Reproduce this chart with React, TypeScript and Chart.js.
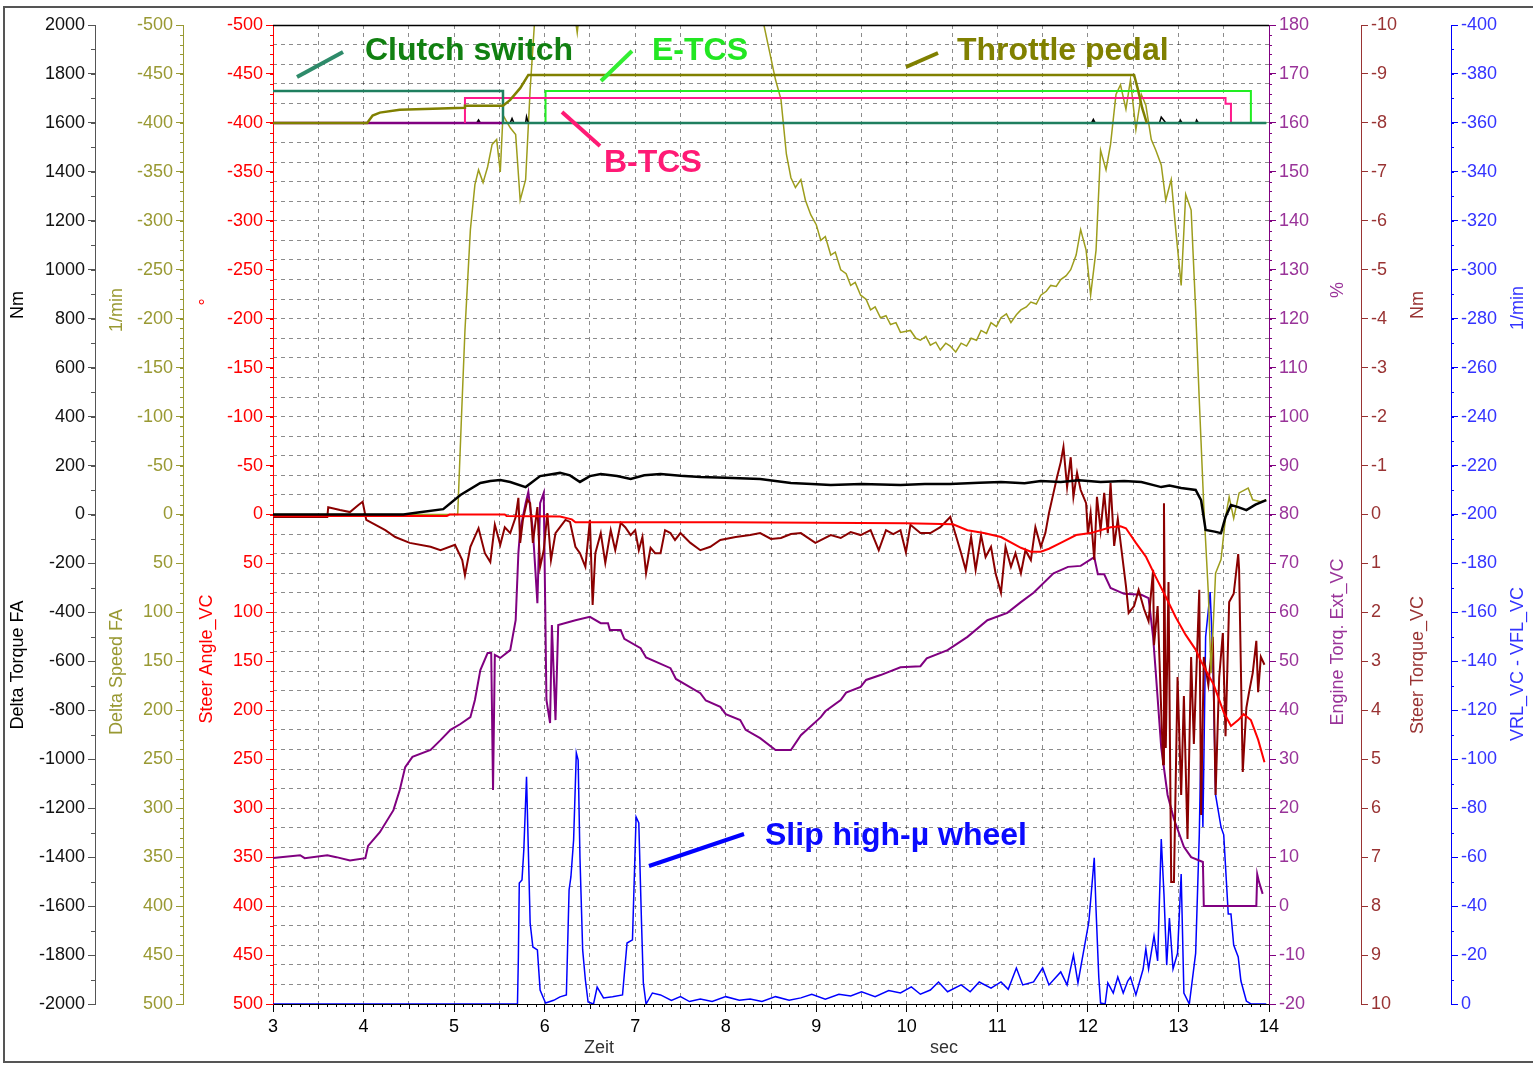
import React, { useEffect, useRef } from 'react';
import { Chart, registerables } from 'chart.js';

Chart.register(...registerables);

const FONT = '"Liberation Sans", Arial, Helvetica, sans-serif';

// ---- time axis (sec) ----
const X_MIN = 3;
const X_MAX = 14;

// ---- series: [time (s), value] ----
const DELTA_TORQUE_FA: [number, number][] = [
  [3.0, 0], [4.44, 0], [4.6, 8], [4.88, 22], [5.07, 80], [5.29, 129], [5.40, 137], [5.51, 141], [5.62, 133],
  [5.79, 112], [5.95, 157], [6.17, 170], [6.28, 160], [6.39, 133], [6.50, 157], [6.62, 165], [6.80, 157],
  [6.95, 145], [7.10, 160], [7.28, 165], [7.50, 158], [7.72, 153], [8.0, 150], [8.38, 145], [8.55, 137],
  [8.72, 129], [8.95, 125], [9.16, 121], [9.5, 125], [9.93, 121], [10.2, 125], [10.48, 125], [10.8, 130],
  [11.04, 133], [11.3, 128], [11.48, 137], [11.70, 133], [11.9, 140], [12.14, 133], [12.4, 137], [12.59, 133],
  [12.81, 112], [12.9, 118], [13.03, 108], [13.19, 100], [13.25, 59], [13.30, -63], [13.40, -70], [13.47, -76],
  [13.52, -10], [13.58, 39], [13.66, 30], [13.75, 18], [13.85, 40], [13.97, 59],
];

const DELTA_SPEED_FA: [number, number][] = [
  [3.0, 0], [5.04, 0], [5.08, -96], [5.12, -188], [5.18, -291], [5.23, -337], [5.27, -352], [5.32, -339],
  [5.37, -355], [5.42, -378], [5.47, -383], [5.51, -350], [5.54, -408], [5.62, -395], [5.68, -388], [5.73, -321],
  [5.79, -342], [5.84, -434], [5.89, -505], [6.01, -580], [6.30, -540], [6.34, -505], [6.36, -492], [6.38, -510],
  [6.45, -600], [7.0, -700], [8.0, -650], [8.38, -540], [8.41, -505], [8.55, -444], [8.61, -424], [8.64, -396],
  [8.67, -368], [8.72, -344], [8.77, -334], [8.83, -342], [8.88, -321], [8.94, -306], [9.0, -296], [9.05, -280],
  [9.10, -284], [9.16, -265], [9.21, -268], [9.27, -250], [9.33, -246], [9.38, -234], [9.43, -237], [9.49, -224],
  [9.55, -220], [9.60, -209], [9.65, -212], [9.71, -201], [9.77, -203], [9.82, -194], [9.88, -196], [9.93, -186],
  [10.04, -188], [10.10, -180], [10.15, -178], [10.21, -182], [10.26, -173], [10.32, -176], [10.37, -168],
  [10.43, -175], [10.48, -172], [10.54, -166], [10.60, -175], [10.66, -172], [10.71, -180], [10.77, -178],
  [10.82, -188], [10.88, -185], [10.93, -196], [10.99, -192], [11.04, -201], [11.10, -205], [11.15, -196],
  [11.21, -204], [11.26, -209], [11.32, -212], [11.37, -217], [11.43, -215], [11.48, -224], [11.54, -228],
  [11.59, -234], [11.65, -233], [11.70, -240], [11.76, -244], [11.81, -250], [11.87, -265], [11.92, -291],
  [11.98, -270], [12.03, -224], [12.09, -270], [12.14, -372], [12.20, -352], [12.25, -378], [12.31, -429],
  [12.36, -439], [12.42, -414], [12.47, -444], [12.53, -393], [12.59, -429], [12.64, -418], [12.70, -383],
  [12.75, -372], [12.81, -357], [12.86, -321], [12.92, -342], [12.97, -291], [13.03, -234], [13.08, -327],
  [13.14, -311], [13.19, -209], [13.23, -117], [13.28, -8], [13.33, 80], [13.36, 162], [13.41, 60], [13.47, 46],
  [13.52, 3], [13.56, -18], [13.61, 4], [13.67, -22], [13.77, -27], [13.82, -15], [13.91, -13], [13.97, -15],
];

const STEER_ANGLE_VC: [number, number][] = [
  [3.0, 1.5], [4.92, 1.5], [4.95, 0], [5.56, 0], [5.58, 1.5], [6.17, 2], [6.30, 5], [6.34, 8], [8.0, 8],
  [9.99, 9], [10.51, 10], [10.67, 16], [10.85, 19], [11.04, 23], [11.26, 34], [11.37, 38], [11.48, 38],
  [11.57, 35], [11.70, 29], [11.87, 21], [12.03, 19], [12.25, 13], [12.36, 12], [12.42, 14], [12.53, 29],
  [12.64, 43], [12.75, 64], [12.86, 84], [12.97, 105], [13.08, 123], [13.19, 138], [13.25, 150], [13.39, 174],
  [13.50, 202], [13.58, 216], [13.66, 210], [13.72, 204], [13.80, 210], [13.88, 230], [13.95, 253],
];

const ENGINE_TORQ_EXT: [number, number][] = [
  [3.0, 9.8], [3.3, 10.4], [3.35, 9.8], [3.6, 10.4], [3.7, 10.0], [3.85, 9.3], [4.02, 9.8], [4.05, 12.3],
  [4.18, 15.1], [4.33, 19.6], [4.40, 23.7], [4.46, 28.4], [4.54, 30.5], [4.74, 31.9], [4.85, 33.9], [4.96, 36.0],
  [5.07, 37.2], [5.18, 38.6], [5.23, 42.1], [5.29, 48.2], [5.37, 51.7], [5.41, 51.7], [5.43, 23.7], [5.45, 51.3],
  [5.51, 50.7], [5.62, 52.3], [5.68, 58.4], [5.71, 72.1], [5.73, 76.8], [5.79, 82.3], [5.82, 84.6], [5.87, 76.8],
  [5.92, 61.9], [5.95, 82.3], [5.99, 84.4], [6.02, 42.1], [6.06, 37.4], [6.08, 57.4], [6.12, 38.0], [6.15, 57.4],
  [6.34, 58.4], [6.50, 59.1], [6.62, 57.8], [6.70, 57.8], [6.72, 56.4], [6.84, 56.4], [6.88, 54.6], [7.06, 52.7],
  [7.12, 50.8], [7.39, 48.6], [7.45, 46.4], [7.72, 43.5], [7.78, 42.0], [7.94, 40.7], [8.00, 39.2], [8.16, 38.0],
  [8.22, 36.0], [8.38, 34.3], [8.55, 31.9], [8.72, 31.9], [8.83, 34.9], [9.05, 38.6], [9.10, 39.8], [9.27, 42.1],
  [9.33, 43.6], [9.49, 44.8], [9.55, 46.2], [9.71, 47.2], [9.93, 48.8], [10.15, 49.0], [10.22, 50.6],
  [10.45, 52.3], [10.67, 55.0], [10.89, 58.4], [11.11, 59.9], [11.26, 62.1], [11.40, 64.0], [11.62, 68.0],
  [11.78, 69.3], [11.92, 69.5], [12.07, 71.3], [12.11, 67.8], [12.18, 67.8], [12.25, 65.0], [12.40, 63.8],
  [12.59, 63.6], [12.67, 62.9], [12.72, 55.0], [12.75, 47.6], [12.81, 32.3], [12.88, 22.7], [12.95, 17.8],
  [13.06, 12.1], [13.14, 10.0], [13.27, 9.0], [13.28, 0], [13.86, 0], [13.87, 6.5], [13.89, 4.9], [13.93, 2.5],
];

const STEER_TORQUE_VC: [number, number][] = [
  [3.0, 0.05], [3.60, 0.05], [3.61, -0.15], [3.74, -0.09], [3.85, -0.05], [3.94, -0.19], [3.99, -0.26],
  [4.03, 0.11], [4.24, 0.32], [4.35, 0.46], [4.51, 0.58], [4.74, 0.66], [4.85, 0.73], [5.01, 0.62], [5.09, 0.93],
  [5.12, 1.24], [5.18, 0.66], [5.27, 0.28], [5.34, 0.79], [5.40, 0.97], [5.45, 0.21], [5.51, 0.62], [5.56, 0.26],
  [5.62, 0.38], [5.68, 0.05], [5.71, -0.34], [5.73, 0.58], [5.76, 0.11], [5.81, -0.30], [5.84, -0.23],
  [5.87, 0.58], [5.92, -0.15], [5.95, 1.07], [5.99, 0.73], [6.03, -0.03], [6.07, 0.93], [6.12, 0.38],
  [6.17, 0.26], [6.23, 0.11], [6.28, 0.15], [6.34, 0.66], [6.39, 0.79], [6.45, 1.07], [6.50, 0.11], [6.53, 1.85],
  [6.56, 0.79], [6.62, 0.38], [6.67, 0.99], [6.73, 0.32], [6.78, 0.73], [6.84, 0.17], [6.89, 0.26], [6.95, 0.42],
  [7.00, 0.32], [7.04, 0.73], [7.08, 0.46], [7.12, 1.20], [7.17, 0.68], [7.22, 0.79], [7.28, 0.79], [7.33, 0.32],
  [7.39, 0.38], [7.44, 0.52], [7.50, 0.38], [7.61, 0.58], [7.72, 0.73], [7.83, 0.66], [7.94, 0.52], [8.11, 0.46],
  [8.27, 0.42], [8.38, 0.38], [8.50, 0.50], [8.61, 0.48], [8.72, 0.40], [8.83, 0.38], [8.99, 0.58], [9.16, 0.42],
  [9.27, 0.48], [9.38, 0.36], [9.49, 0.42], [9.60, 0.32], [9.69, 0.73], [9.77, 0.32], [9.85, 0.40], [9.93, 0.32],
  [9.99, 0.77], [10.04, 0.21], [10.15, 0.38], [10.26, 0.38], [10.37, 0.26], [10.48, 0.05], [10.54, 0.42],
  [10.60, 0.79], [10.65, 1.13], [10.71, 0.46], [10.76, 1.13], [10.82, 0.42], [10.87, 0.87], [10.93, 0.66],
  [10.98, 1.20], [11.04, 1.60], [11.09, 0.66], [11.15, 1.07], [11.20, 0.79], [11.26, 1.20], [11.31, 0.73],
  [11.37, 0.93], [11.42, 0.26], [11.48, 0.66], [11.53, 0.38], [11.57, -0.03], [11.61, -0.36], [11.66, -0.77],
  [11.70, -1.07], [11.73, -1.38], [11.77, -0.56], [11.81, -1.17], [11.84, -0.36], [11.88, -0.85], [11.92, -0.50],
  [11.98, -0.23], [12.00, 0.40], [12.03, -0.03], [12.07, 0.93], [12.10, -0.36], [12.14, 0.32], [12.18, -0.44],
  [12.22, 0.38], [12.25, -0.64], [12.29, 0.64], [12.33, 0.09], [12.36, 0.56], [12.42, 1.46], [12.45, 2.01],
  [12.51, 1.87], [12.56, 1.54], [12.62, 1.93], [12.67, 2.18], [12.72, 1.13], [12.73, 2.67], [12.77, 1.87],
  [12.83, 5.10], [12.84, -0.23], [12.86, 4.77], [12.89, 1.38], [12.92, 7.51], [12.95, 7.51], [12.99, 3.32],
  [13.03, 5.73], [13.06, 3.71], [13.10, 6.63], [13.14, 2.91], [13.17, 4.69], [13.23, 1.54], [13.25, 6.14],
  [13.28, 2.91], [13.33, 3.48], [13.38, 2.50], [13.41, 5.73], [13.45, 3.32], [13.49, 2.42], [13.52, 4.53],
  [13.56, 1.79], [13.61, 1.62], [13.66, 0.81], [13.67, 1.13], [13.71, 5.26], [13.75, 3.95], [13.78, 3.63],
  [13.82, 3.24], [13.86, 2.58], [13.88, 3.63], [13.91, 2.91], [13.95, 3.07],
];

const VRL_MINUS_VFL: [number, number][] = [
  [3.0, 0], [5.70, 0], [5.71, -19.2], [5.72, -49.4], [5.75, -50.7], [5.77, -62.9], [5.80, -92.8], [5.82, -62.9],
  [5.84, -33.1], [5.87, -23.3], [5.92, -22.1], [5.95, -5.7], [6.01, -0.4], [6.10, -1.5], [6.17, -2.9],
  [6.24, -3.7], [6.27, -46.6], [6.29, -51.9], [6.32, -67], [6.35, -102.6], [6.37, -99.7], [6.39, -60.1],
  [6.42, -22.1], [6.45, -9.8], [6.48, -0.8], [6.54, 0], [6.58, -6.9], [6.65, -2.5], [6.75, -3.0], [6.86, -3.7],
  [6.91, -24.9], [6.97, -26.2], [7.01, -76.4], [7.04, -74], [7.07, -33.1], [7.09, -8.6], [7.12, 0], [7.19, -4.5],
  [7.28, -3.7], [7.4, -1.5], [7.5, -3], [7.6, -1], [7.72, -2], [7.85, -1], [8.0, -3], [8.15, -1.5], [8.27, -2],
  [8.4, -1], [8.55, -3], [8.7, -1.5], [8.83, -2.5], [8.95, -4], [9.1, -2], [9.25, -4], [9.38, -3.3], [9.5, -5],
  [9.65, -3], [9.8, -5.5], [9.93, -4.5], [10.05, -7], [10.15, -4], [10.26, -5.7], [10.35, -9], [10.45, -5],
  [10.6, -7.8], [10.7, -5], [10.8, -9], [10.93, -6.5], [11.04, -9], [11.12, -6], [11.21, -14.7], [11.28, -7.8],
  [11.4, -9], [11.50, -14.7], [11.57, -7.8], [11.70, -13.1], [11.77, -7.8], [11.84, -20], [11.89, -8.6],
  [12.01, -33.5], [12.07, -59.7], [12.09, -38.4], [12.12, -11], [12.14, -0.4], [12.19, 0], [12.22, -8.6],
  [12.28, -4.5], [12.33, -11], [12.39, -4.5], [12.44, -9.4], [12.47, -11], [12.53, -3.7], [12.61, -14.3],
  [12.64, -22.5], [12.67, -14.3], [12.73, -27.8], [12.77, -17.6], [12.81, -67.4], [12.84, -44.9], [12.87, -15.9],
  [12.90, -35.1], [12.94, -14.3], [12.99, -20.8], [13.03, -53.1], [13.06, -4.5], [13.12, 0], [13.19, -20.8],
  [13.23, -69.1], [13.25, -109.5], [13.27, -72.3], [13.30, -150], [13.35, -168.3], [13.38, -141.8],
  [13.41, -85.4], [13.47, -72.3], [13.50, -69.1], [13.55, -36.8], [13.58, -36.8], [13.61, -24.1], [13.66, -19.2],
  [13.69, -9.4], [13.75, -1.2], [13.80, 0], [13.97, 0],
];

// digital / pedal traces, plotted on the % axis
const THROTTLE_PEDAL: [number, number][] = [
  [3.0, 160], [4.04, 160], [4.10, 161.5], [4.18, 162.1], [4.40, 162.7], [5.12, 163.1], [5.12, 163.5],
  [5.54, 163.5], [5.62, 164.7], [5.73, 167.1], [5.82, 169.8], [12.51, 169.8], [12.55, 167], [12.60, 163],
  [12.65, 160],
];
const CLUTCH_SWITCH: [number, number][] = [[3.0, 166.5], [5.54, 166.5], [5.54, 160], [13.97, 160]];
const B_TCS: [number, number][] = [
  [5.12, 160], [5.12, 165.1], [13.52, 165.1], [13.52, 163.9], [13.58, 163.9], [13.58, 160],
];
const E_TCS: [number, number][] = [[6.01, 160], [6.01, 166.5], [13.80, 166.5], [13.80, 160], [13.97, 160]];
const BASE_STATE: [number, number][] = [[3.0, 160], [5.54, 160]];
const FLAG_BLIPS: [number, number][] = [
  [5.25, 160], [5.27, 160.6], [5.29, 160], [5.62, 160], [5.64, 160.9], [5.66, 160], [5.79, 160], [5.80, 161.3],
  [5.82, 160], [12.04, 160], [12.06, 160.7], [12.08, 160], [12.79, 160], [12.81, 161.2], [12.84, 160.5],
  [12.86, 160], [13.01, 160], [13.02, 160.6], [13.04, 160], [13.19, 160], [13.20, 160.6], [13.22, 160],
];

// ---- axis tick labels ----
const X_LABELS = [3, 4, 5, 6, 7, 8, 9, 10, 11, 12, 13, 14];

const toXY = (arr: [number, number][]) => arr.map(([x, y]) => ({ x, y }));

function lineDs(label: string, data: [number, number][], color: string, width: number, yAxisID: string) {
  return {
    label,
    data: toXY(data),
    borderColor: color,
    backgroundColor: color,
    borderWidth: width,
    pointRadius: 0,
    tension: 0,
    fill: false,
    yAxisID,
    xAxisID: 'x',
  };
}

const tickFont = { family: FONT, size: 18 };

function yAxis(o: {
  position: 'left' | 'right';
  min: number;
  max: number;
  step: number;
  reverse?: boolean;
  label: string;
  line: string;
  width: number;
}) {
  return {
    type: 'linear',
    position: o.position,
    min: o.min,
    max: o.max,
    reverse: !!o.reverse,
    ticks: {
      stepSize: o.step,
      autoSkip: false,
      color: o.label,
      font: tickFont,
      padding: 3,
      callback: (v: number) => String(Math.round(v * 100) / 100),
    },
    grid: {
      drawOnChartArea: false,
      drawTicks: true,
      tickLength: 7,
      tickColor: o.line,
      tickWidth: 1,
    },
    border: { display: true, color: o.line, width: 1 },
    afterFit: (s: any) => {
      s.width = o.width;
    },
  };
}

const MINOR = [
  { id: 'yTorque', step: 100, len: 4, color: '#555555' },
  { id: 'ySpeed', step: 10, len: 3, color: '#999933' },
  { id: 'ySteer', step: 10, len: 3, color: '#ff0000' },
  { id: 'yEngine', step: 2, len: 3, color: '#800080' },
  { id: 'ySlip', step: 10, len: 3, color: '#0000ff' },
];

const TITLES = [
  { x: 18, unit: 'Nm', uy: 305, name: 'Delta Torque FA', ny: 665, color: '#000000' },
  { x: 117, unit: '1/min', uy: 310, name: 'Delta Speed FA', ny: 672, color: '#999933' },
  { x: 207, unit: '°', uy: 302, name: 'Steer Angle_VC', ny: 659, color: '#ff0000' },
  { x: 1338, unit: '%', uy: 290, name: 'Engine Torq. Ext_VC', ny: 642, color: '#993399' },
  { x: 1418, unit: 'Nm', uy: 305, name: 'Steer Torque_VC', ny: 665, color: '#993333' },
  { x: 1518, unit: '1/min', uy: 308, name: 'VRL_VC - VFL_VC', ny: 664, color: '#3333ff' },
];

const NOTES = [
  { text: 'Clutch switch', x: 365, y: 60, color: '#118011', l: [297, 77, 343, 52], lc: '#2e8b6a' },
  { text: 'E-TCS', x: 652, y: 60, color: '#22e622', l: [601, 81, 632, 51], lc: '#33ee33' },
  { text: 'Throttle pedal', x: 957, y: 60, color: '#808000', l: [906, 67, 938, 53], lc: '#808000' },
  { text: 'B-TCS', x: 604, y: 172, color: '#ff1a75', l: [562, 112, 600, 146], lc: '#ff1a75' },
  { text: 'Slip high-µ wheel', x: 765, y: 845, color: '#0a0aff', l: [649, 866, 744, 834], lc: '#0000ff' },
];

const decorPlugin = {
  id: 'decor',
  beforeDraw(chart: any) {
    const { ctx, width, height } = chart;
    ctx.save();
    ctx.fillStyle = '#ffffff';
    ctx.fillRect(0, 0, width, height);
    ctx.restore();
  },
  afterDraw(chart: any) {
    const ctx: CanvasRenderingContext2D = chart.ctx;
    const area = chart.chartArea;
    ctx.save();

    // outer frame
    ctx.strokeStyle = '#555555';
    ctx.lineWidth = 2;
    ctx.beginPath();
    ctx.moveTo(1533, 7);
    ctx.lineTo(4, 7);
    ctx.lineTo(4, 1062);
    ctx.lineTo(1533, 1062);
    ctx.stroke();

    // top border of plot area
    ctx.strokeStyle = '#000000';
    ctx.lineWidth = 1.5;
    ctx.beginPath();
    ctx.moveTo(area.left, area.top + 0.5);
    ctx.lineTo(area.right, area.top + 0.5);
    ctx.stroke();

    // minor ticks on y axes
    ctx.lineWidth = 1;
    for (const m of MINOR) {
      const s = chart.scales[m.id];
      if (!s) continue;
      const lo = Math.min(s.min, s.max);
      const hi = Math.max(s.min, s.max);
      const n = Math.round((hi - lo) / m.step);
      const left = s.position === 'left';
      const x0 = left ? s.right : s.left;
      ctx.strokeStyle = m.color;
      ctx.beginPath();
      for (let i = 0; i <= n; i++) {
        const v = lo + i * m.step;
        const py = Math.round(s.getPixelForValue(v)) + 0.5;
        ctx.moveTo(x0, py);
        ctx.lineTo(left ? x0 - m.len : x0 + m.len, py);
      }
      ctx.stroke();
    }

    // minor ticks on time axis
    const xs = chart.scales.x;
    ctx.strokeStyle = '#000000';
    ctx.beginPath();
    const nx = Math.round((X_MAX - X_MIN) * 10);
    for (let i = 0; i <= nx; i++) {
      if (i % 10 === 0) continue;
      const px = Math.round(xs.getPixelForValue(X_MIN + i / 10)) + 0.5;
      const len = i % 5 === 0 ? 5 : 3;
      ctx.moveTo(px, area.bottom);
      ctx.lineTo(px, area.bottom + len);
    }
    ctx.stroke();

    // axis titles (rotated)
    ctx.font = `18px ${FONT}`;
    ctx.textAlign = 'center';
    ctx.textBaseline = 'middle';
    for (const t of TITLES) {
      ctx.fillStyle = t.color;
      for (const [txt, cy] of [
        [t.unit, t.uy],
        [t.name, t.ny],
      ] as [string, number][]) {
        ctx.save();
        ctx.translate(t.x, cy);
        ctx.rotate(-Math.PI / 2);
        ctx.fillText(txt, 0, 0);
        ctx.restore();
      }
    }

    // time axis titles
    ctx.fillStyle = '#333333';
    ctx.fillText('Zeit', 599, 1048);
    ctx.fillText('sec', 944, 1048);

    // annotations
    ctx.lineCap = 'butt';
    for (const n of NOTES) {
      ctx.strokeStyle = n.lc;
      ctx.lineWidth = 4;
      ctx.beginPath();
      ctx.moveTo(n.l[0], n.l[1]);
      ctx.lineTo(n.l[2], n.l[3]);
      ctx.stroke();
      ctx.font = `bold 32px ${FONT}`;
      ctx.textAlign = 'left';
      ctx.textBaseline = 'alphabetic';
      ctx.fillStyle = n.color;
      ctx.fillText(n.text, n.x, n.y);
    }
    ctx.restore();
  },
};

export default function App() {
  const ref = useRef<HTMLCanvasElement>(null);

  useEffect(() => {
    if (!ref.current) return;
    Chart.defaults.font.family = FONT;
    const chart = new Chart(ref.current, {
      type: 'line',
      data: {
        datasets: [
          lineDs('Throttle pedal', THROTTLE_PEDAL, '#808000', 2.5, 'yEngine'),
          lineDs('Clutch switch', CLUTCH_SWITCH, '#1f7f5f', 2.5, 'yEngine'),
          lineDs('B-TCS', B_TCS, '#ff1a8c', 2, 'yEngine'),
          lineDs('E-TCS', E_TCS, '#22ee22', 2, 'yEngine'),
          lineDs('State', BASE_STATE, '#800080', 2.5, 'yEngine'),
          lineDs('Flag', FLAG_BLIPS, '#000000', 1.5, 'yEngine'),
          lineDs('Delta Torque FA', DELTA_TORQUE_FA, '#000000', 2.5, 'yTorque'),
          lineDs('Steer Angle_VC', STEER_ANGLE_VC, '#ff0000', 2, 'ySteer'),
          lineDs('Delta Speed FA', DELTA_SPEED_FA, '#9d9d1c', 1.5, 'ySpeed'),
          lineDs('Steer Torque_VC', STEER_TORQUE_VC, '#8b0000', 2, 'ySteerT'),
          lineDs('Engine Torq. Ext_VC', ENGINE_TORQ_EXT, '#800080', 2, 'yEngine'),
          lineDs('VRL_VC - VFL_VC', VRL_MINUS_VFL, '#0000ff', 1.5, 'ySlip'),
        ],
      },
      options: {
        responsive: false,
        animation: false,
        devicePixelRatio: 1,
        events: [],
        layout: { padding: { left: 6, right: 6, top: 25, bottom: 22 } },
        plugins: {
          legend: { display: false },
          tooltip: { enabled: false },
          title: { display: false },
        },
        scales: {
          x: {
            type: 'linear',
            position: 'bottom',
            min: X_MIN,
            max: X_MAX,
            ticks: {
              stepSize: 0.5,
              autoSkip: false,
              maxRotation: 0,
              color: '#000000',
              font: tickFont,
              padding: 4,
              callback: (v: number) => (X_LABELS.includes(v) ? String(v) : ''),
            },
            grid: {
              color: 'rgba(0,0,0,0.45)',
              lineWidth: 1,
              drawTicks: true,
              tickLength: 8,
              tickColor: (c: any) =>
                c.tick && Number.isInteger(c.tick.value) ? '#000000' : 'rgba(0,0,0,0)',
            },
            border: { display: true, color: '#000000', width: 1, dash: [4, 4] },
            afterFit: (s: any) => {
              s.height = 40;
            },
          },
          ySteer: yAxis({ position: 'left', min: -500, max: 500, step: 50, reverse: true, label: '#ff0000', line: '#ff0000', width: 90 }),
          ySpeed: yAxis({ position: 'left', min: -500, max: 500, step: 50, reverse: true, label: '#999933', line: '#999933', width: 88 }),
          yTorque: yAxis({ position: 'left', min: -2000, max: 2000, step: 200, label: '#111111', line: '#555555', width: 89 }),
          yEngine: yAxis({ position: 'right', min: -20, max: 180, step: 10, label: '#993399', line: '#800080', width: 92 }),
          ySteerT: yAxis({ position: 'right', min: -10, max: 10, step: 1, reverse: true, label: '#993333', line: '#993333', width: 90 }),
          ySlip: yAxis({ position: 'right', min: -400, max: 0, step: 20, reverse: true, label: '#3333ff', line: '#0000ff', width: 76 }),
          gridY: {
            type: 'linear',
            position: 'left',
            min: 0,
            max: 50,
            display: true,
            ticks: { stepSize: 1, display: false, autoSkip: false },
            grid: { drawTicks: false, color: 'rgba(0,0,0,0.45)', lineWidth: 1 },
            border: { display: false, dash: [4, 4] },
            afterFit: (s: any) => {
              s.width = 0;
            },
          },
        },
      } as any,
      plugins: [decorPlugin],
    } as any);
    return () => chart.destroy();
  }, []);

  return (
    <div style={{ position: 'absolute', left: 0, top: 0, width: 1533, height: 1066, background: '#ffffff' }}>
      <canvas ref={ref} width={1533} height={1066} style={{ display: 'block' }} />
    </div>
  );
}
